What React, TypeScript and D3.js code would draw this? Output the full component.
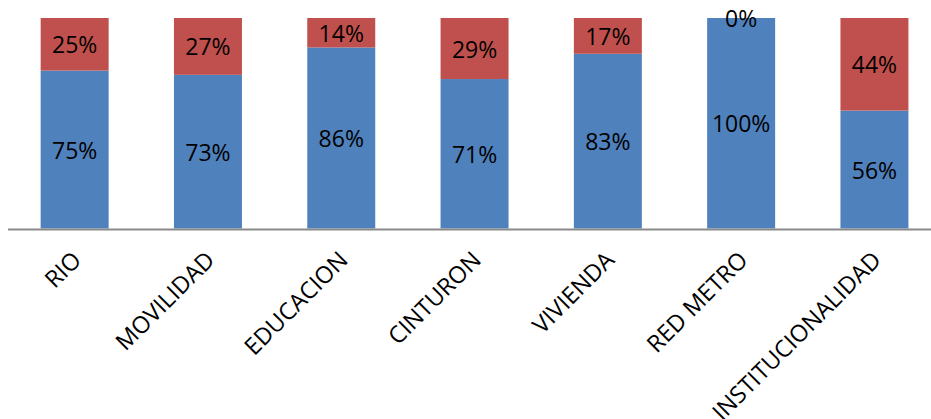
import React, { useEffect } from "react";
import * as d3 from "d3";

const categories = ["RIO", "MOVILIDAD", "EDUCACION", "CINTURON", "VIVIENDA", "RED METRO", "INSTITUCIONALIDAD"];
const blueValues = [75, 73, 86, 71, 83, 100, 56];
const redValues = [25, 27, 14, 29, 17, 0, 44];

const width = 931;
const height = 419;
const margin = { left: 8, top: 18, bottom: 190 };

const BLUE = "#4F81BD";
const RED = "#C0504D";
const FONT = "'Open Sans', 'Liberation Sans', sans-serif";

export default function App() {
  useEffect(() => {
    document.body.style.margin = "0";
  }, []);

  const x = d3
    .scaleBand()
    .domain(categories)
    .range([margin.left, margin.left + 7 * 133.3])
    .paddingInner(0.49)
    .paddingOuter(0.245);

  const y = d3
    .scaleLinear()
    .domain([0, 100])
    .range([height - margin.bottom - 0.5, margin.top]);

  const rows = categories.map((c, i) => ({ cat: c, blue: blueValues[i], red: redValues[i] }));
  const stack = d3.stack<any>().keys(["blue", "red"])(rows);
  const colors = [BLUE, RED];
  const axisY = height - margin.bottom + 0.5;

  return (
    <svg width={width} height={height} style={{ display: "block", background: "#fff" }}>
      {stack.map((layer, li) =>
        layer.map((d, i) => (
          <rect
            key={`${li}-${i}`}
            x={x(categories[i])}
            width={x.bandwidth()}
            y={y(d[1])}
            height={y(d[0]) - y(d[1])}
            fill={colors[li]}
          />
        ))
      )}
      <line x1={8} x2={width} y1={axisY} y2={axisY} stroke="#8a8a8a" strokeWidth={2} />
      {stack.map((layer, li) =>
        layer.map((d, i) => (
          <text
            key={`l-${li}-${i}`}
            x={x(categories[i])! + x.bandwidth() / 2}
            y={(y(d[0]) + y(d[1])) / 2}
            textAnchor="middle"
            dominantBaseline="central"
            fontFamily={FONT}
            fontSize={23}
            fill="#000"
          >
            {`${d[1] - d[0]}%`}
          </text>
        ))
      )}
      {categories.map((c) => {
        const cx = x(c)! + x.bandwidth() / 2 + 8;
        const cy = axisY + 32;
        return (
          <text
            key={c}
            transform={`translate(${cx},${cy}) rotate(-45)`}
            textAnchor="end"
            fontFamily={FONT}
            fontSize={23.5}
            fill="#000"
          >
            {c}
          </text>
        );
      })}
    </svg>
  );
}
